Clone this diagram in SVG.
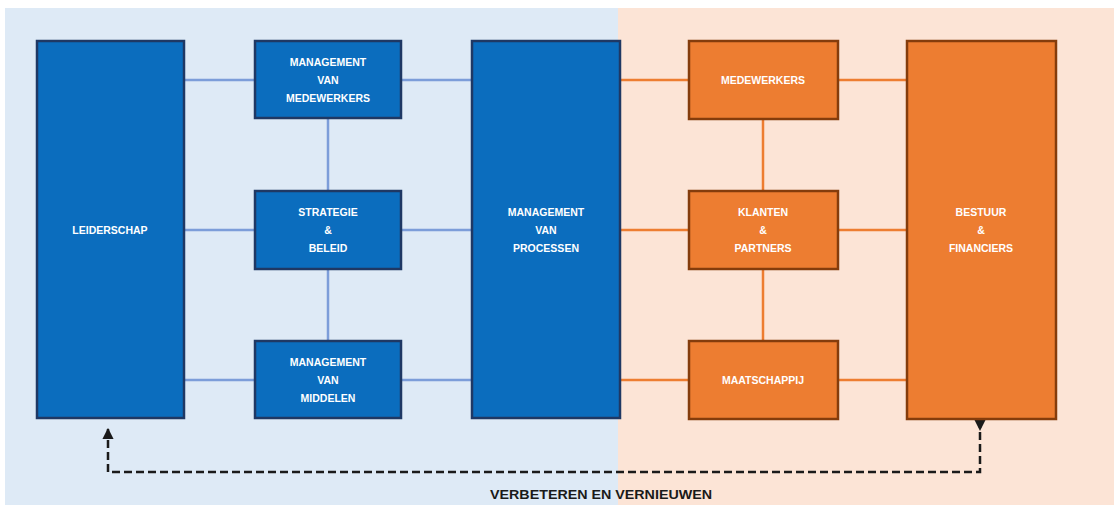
<svg xmlns="http://www.w3.org/2000/svg" width="1119" height="505" viewBox="0 0 1119 505">
<style>
.bnode{fill:#0B6DBE;stroke:#1F3864;stroke-width:2.5}
.onode{fill:#ED7D31;stroke:#843C0C;stroke-width:2.5}
.lbl{font-family:"Liberation Sans",Arial,sans-serif;font-weight:bold;font-size:10.5px;fill:#FFFFFF;text-anchor:middle}
.bc{stroke:#7C9DD9;stroke-width:2.5;fill:none}
.oc{stroke:#ED7D31;stroke-width:2.5;fill:none}
.dash{stroke:#1A1A1A;stroke-width:2.5;stroke-dasharray:8 4;fill:none}
.cap{font-family:"Liberation Sans",Arial,sans-serif;font-weight:bold;font-size:13px;fill:#1A1A1A;text-anchor:middle}
</style>
<defs>
<marker id="ah" viewBox="0 0 10 10" refX="9" refY="5" markerWidth="4.5" markerHeight="4.5" orient="auto" markerUnits="strokeWidth">
<path d="M0,0 L10,5 L0,10 z" fill="#1A1A1A"/>
</marker>
</defs>
<rect x="0" y="0" width="1119" height="505" fill="#FFFFFF"/>
<rect x="5" y="8" width="613" height="497" fill="#DEEAF6"/>
<rect x="618" y="8" width="496" height="497" fill="#FCE4D6"/>
<g id="connectors">
<path class="bc" d="M184,80H255 M184,230H255 M184,380H255 M401,80H472 M401,230H472 M401,380H472 M328,118V191 M328,269V341"/>
<path class="oc" d="M620,80H689 M620,230H689 M620,380H689 M838,80H907 M838,230H907 M838,380H907 M763,119V191 M763,269V341"/>
<path class="dash" d="M980,420V472H108V429" marker-end="url(#ah)"/>
<path d="M974,419L986,419L980,431z" fill="#1A1A1A"/>
</g>
<g id="leiderschap"><rect class="bnode" x="37" y="41" width="147" height="377"/><text class="lbl" x="110" y="234">LEIDERSCHAP</text></g>
<g id="mgmt-medewerkers"><rect class="bnode" x="255" y="41" width="146" height="77"/><text class="lbl" x="328" y="66">MANAGEMENT</text><text class="lbl" x="328" y="84">VAN</text><text class="lbl" x="328" y="102">MEDEWERKERS</text></g>
<g id="strategie"><rect class="bnode" x="255" y="191" width="146" height="78"/><text class="lbl" x="328" y="216">STRATEGIE</text><text class="lbl" x="328" y="234">&amp;</text><text class="lbl" x="328" y="252">BELEID</text></g>
<g id="mgmt-middelen"><rect class="bnode" x="255" y="341" width="146" height="77"/><text class="lbl" x="328" y="366">MANAGEMENT</text><text class="lbl" x="328" y="384">VAN</text><text class="lbl" x="328" y="402">MIDDELEN</text></g>
<g id="processen"><rect class="bnode" x="472" y="41" width="148" height="377"/><text class="lbl" x="546" y="216">MANAGEMENT</text><text class="lbl" x="546" y="234">VAN</text><text class="lbl" x="546" y="252">PROCESSEN</text></g>
<g id="medewerkers"><rect class="onode" x="689" y="41" width="149" height="78"/><text class="lbl" x="763" y="84">MEDEWERKERS</text></g>
<g id="klanten"><rect class="onode" x="689" y="191" width="149" height="78"/><text class="lbl" x="763" y="216">KLANTEN</text><text class="lbl" x="763" y="234">&amp;</text><text class="lbl" x="763" y="252">PARTNERS</text></g>
<g id="maatschappij"><rect class="onode" x="689" y="341" width="149" height="78"/><text class="lbl" x="763" y="384">MAATSCHAPPIJ</text></g>
<g id="bestuur"><rect class="onode" x="907" y="41" width="149" height="378"/><text class="lbl" x="981" y="216">BESTUUR</text><text class="lbl" x="981" y="234">&amp;</text><text class="lbl" x="981" y="252">FINANCIERS</text></g>
<text class="cap" x="601" y="499" textLength="222" lengthAdjust="spacingAndGlyphs">VERBETEREN EN VERNIEUWEN</text>
</svg>
